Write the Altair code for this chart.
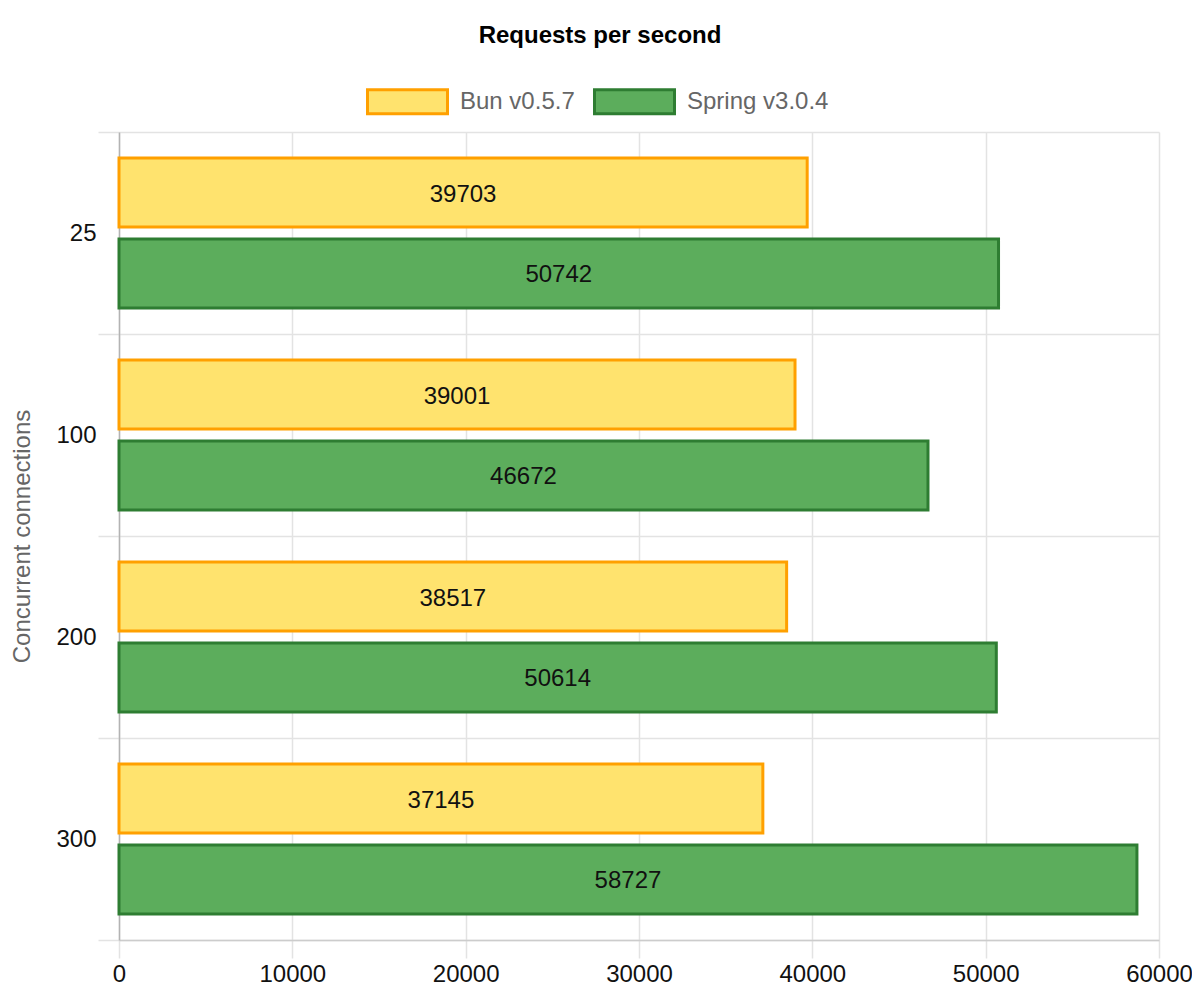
import altair as alt
import pandas as pd

categories = ["25", "100", "200", "300"]
series_names = ["Bun v0.5.7", "Spring v3.0.4"]
bun_values = [39703, 39001, 38517, 37145]
spring_values = [50742, 46672, 50614, 58727]

rows = []
for c, b, s in zip(categories, bun_values, spring_values):
    rows.append({"connections": c, "series": series_names[0], "rps": b})
    rows.append({"connections": c, "series": series_names[1], "rps": s})
df = pd.DataFrame(rows)

FONT = "Liberation Sans"
fill_range = ["#FFE36E", "#5CAD5C"]
stroke_range = ["#FFA000", "#2E7D32"]


def make_legend():
    return alt.Legend(
        title=None, orient="none", legendX=247, legendY=-72, direction="horizontal",
        symbolType="M-1,-0.3H1V0.3H-1Z", symbolSize=6400, symbolStrokeWidth=3,
        symbolOpacity=1,
        labelFont=FONT, labelFontSize=24, labelColor="#666666", labelOffset=11,
        columnPadding=13,
    )


y_enc = alt.Y(
    "connections:N",
    sort=categories,
    scale=alt.Scale(paddingInner=0, paddingOuter=0),
    axis=alt.Axis(
        title="Concurrent connections",
        titleFont=FONT, titleFontSize=24, titleFontWeight="normal", titleColor="#666666",
        titleX=-97, titleY=404, titleAngle=270, titleAlign="center", titleBaseline="middle",
        labelFont=FONT, labelFontSize=24, labelColor="#111111", labelPadding=2,
        tickBand="extent", tickSize=21, tickColor="#e3e3e3", tickWidth=1.5,
        grid=True, gridColor="#e3e3e3", gridWidth=1.5,
        domainColor="#b3b3b3", domainWidth=1.5,
    ),
)
yoff_enc = alt.YOffset(
    "series:N",
    sort=series_names,
    scale=alt.Scale(paddingInner=0.146, paddingOuter=0.323),
)

bars = alt.Chart(df).mark_bar(strokeWidth=3).encode(
    x=alt.X(
        "rps:Q",
        scale=alt.Scale(domain=[0, 60000], nice=False),
        axis=alt.Axis(
            title=None, values=[0, 10000, 20000, 30000, 40000, 50000, 60000], format="d",
            labelFont=FONT, labelFontSize=24, labelColor="#111111", labelPadding=4,
            labelFlush=False, labelOverlap=False,
            tickSize=18, tickColor="#e3e3e3", tickWidth=1.5,
            grid=True, gridColor="#e3e3e3", gridWidth=1.5,
            domainColor="#cccccc", domainWidth=1.5,
        ),
    ),
    y=y_enc,
    yOffset=yoff_enc,
    fill=alt.Fill(
        "series:N", sort=series_names,
        scale=alt.Scale(domain=series_names, range=fill_range),
        legend=make_legend(),
    ),
    stroke=alt.Stroke(
        "series:N", sort=series_names,
        scale=alt.Scale(domain=series_names, range=stroke_range),
        legend=make_legend(),
    ),
)

labels = alt.Chart(df).transform_calculate(half="datum.rps / 2").mark_text(
    font=FONT, fontSize=24, color="#111111", align="center", baseline="middle", dy=2
).encode(
    x=alt.X("half:Q"),
    y=alt.Y("connections:N", sort=categories),
    yOffset=alt.YOffset("series:N", sort=series_names),
    text=alt.Text("rps:Q", format="d"),
)

chart = alt.layer(bars, labels).properties(
    width=1040,
    height=808,
    padding={"left": 111, "top": 124, "right": 33, "bottom": 50},
    autosize=alt.AutoSizeParams(type="none"),
    title=alt.Title(
        "Requests per second", font=FONT, fontSize=24, fontWeight="bold", color="#000000",
        anchor="middle", dx=-39, offset=12,
    ),
).configure_view(stroke=None)

chart.save("out.html", embed_options={"renderer": "svg", "actions": False})
